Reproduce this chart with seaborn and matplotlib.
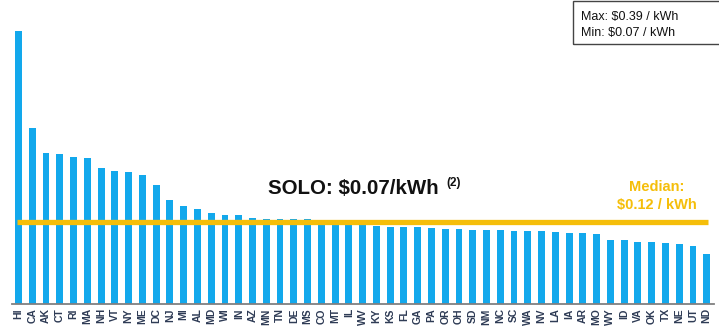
import matplotlib
matplotlib.use("Agg")
import matplotlib.pyplot as plt
import seaborn as sns
import pandas as pd
from matplotlib.patches import Rectangle

# Average retail electricity price by state ($/kWh), sorted high to low
states = ["HI", "CA", "AK", "CT", "RI", "MA", "NH", "VT", "NY", "ME", "DC",
          "NJ", "MI", "AL", "MD", "WI", "IN", "AZ", "MN", "TN", "DE", "MS",
          "CO", "MT", "IL", "WV", "KY", "KS", "FL", "GA", "PA", "OR", "OH",
          "SD", "NM", "NC", "SC", "WA", "NV", "LA", "IA", "AR", "MO", "WY",
          "ID", "VA", "OK", "TX", "NE", "UT", "ND"]
prices = [0.390, 0.251, 0.215, 0.214, 0.210, 0.209, 0.194, 0.190, 0.188, 0.184, 0.170,
          0.148, 0.140, 0.136, 0.130, 0.127, 0.127, 0.123, 0.122, 0.122, 0.122, 0.121,
          0.117, 0.116, 0.115, 0.113, 0.112, 0.110, 0.110, 0.110, 0.109, 0.107, 0.107,
          0.106, 0.106, 0.106, 0.105, 0.105, 0.105, 0.103, 0.102, 0.101, 0.100, 0.092,
          0.091, 0.088, 0.088, 0.087, 0.086, 0.083, 0.071]
median_line = 0.117

BLUE = "#12A8EC"
GOLD = "#F5BE0A"

plt.rcParams["font.family"] = ["Liberation Sans", "DejaVu Sans"]

df = pd.DataFrame({"State": states, "Price": prices})

fig = plt.figure(figsize=(7.19, 3.36), dpi=100)
ax = fig.add_axes([0.0162, 0.095, 0.9763, 0.905])

sns.barplot(data=df, x="State", y="Price", color=BLUE, width=0.5,
            saturation=1, ax=ax)

ax.set_xlim(-0.5, len(states) - 0.5)
ax.set_ylim(0, 0.434)
ax.hlines(median_line, -0.1, len(states) - 0.9, color=GOLD, lw=3.8, zorder=3)

for s in ["top", "right", "left"]:
    ax.spines[s].set_visible(False)
ax.spines["bottom"].set_color("#808080")
ax.spines["bottom"].set_linewidth(1.3)
ax.set_yticks([])
ax.set_xlabel("")
ax.set_ylabel("")
ax.tick_params(axis="x", length=0, pad=3)
plt.setp(ax.get_xticklabels(), rotation=90, fontsize=7.5, fontweight="bold",
         color="#2E3B55")

# annotations
fig.text(268 / 719, 1 - 188 / 336, "SOLO: $0.07/kWh", fontsize=14.8,
         fontweight="bold", color="#111111", va="center", ha="left")
fig.text(446 / 719, 1 - 183 / 336, "(2)", fontsize=8.5, fontweight="bold",
         color="#111111", va="center", ha="left")
fig.text(657 / 719, 1 - 187 / 336, "Median:", fontsize=10.5, fontweight="bold",
         color=GOLD, ha="center", va="center")
fig.text(657 / 719, 1 - 205 / 336, "$0.12 / kWh", fontsize=10.5, fontweight="bold",
         color=GOLD, ha="center", va="center")

fig.patches.append(Rectangle((573 / 719, 1 - 44 / 336), 150 / 719, 43 / 336,
                             transform=fig.transFigure, fill=False,
                             edgecolor="#444444", lw=1.0))
fig.text(581 / 719, 1 - 17 / 336, "Max: $0.39 / kWh", fontsize=9,
         color="#111111", va="center", ha="left")
fig.text(581 / 719, 1 - 33 / 336, "Min: $0.07 / kWh", fontsize=9,
         color="#111111", va="center", ha="left")

fig.savefig("out.png", dpi=100, facecolor="white")
